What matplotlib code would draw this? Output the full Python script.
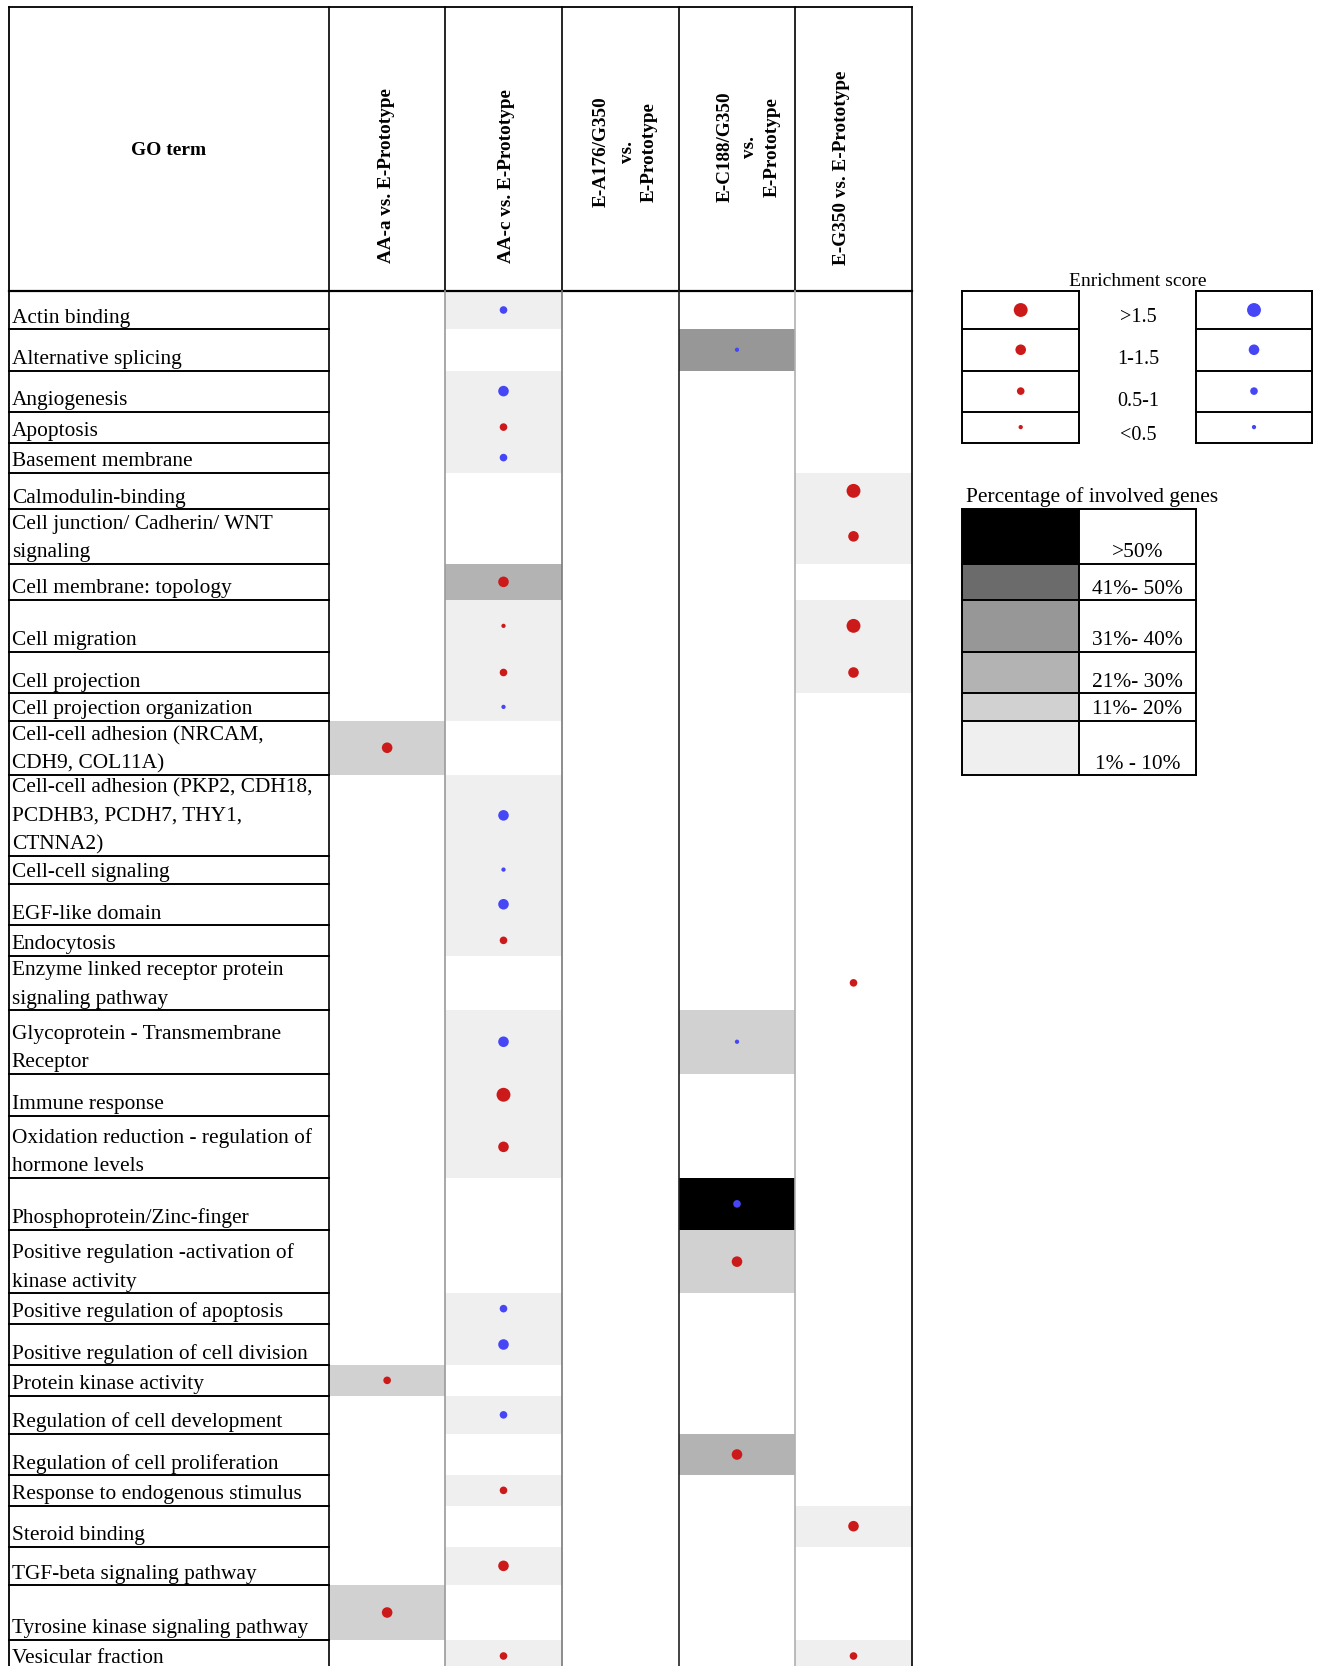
import numpy as np
import matplotlib.pyplot as plt
from matplotlib.patches import Rectangle

plt.rcParams['font.family'] = ['Liberation Serif', 'DejaVu Serif']

# GO terms (rows) and comparisons (columns)
go_terms = [
    'Actin binding',
    'Alternative splicing',
    'Angiogenesis',
    'Apoptosis',
    'Basement membrane',
    'Calmodulin-binding',
    'Cell junction/ Cadherin/ WNT\nsignaling',
    'Cell membrane: topology',
    'Cell migration',
    'Cell projection',
    'Cell projection organization',
    'Cell-cell adhesion (NRCAM,\nCDH9, COL11A)',
    'Cell-cell adhesion (PKP2, CDH18,\nPCDHB3, PCDH7, THY1,\nCTNNA2)',
    'Cell-cell signaling',
    'EGF-like domain',
    'Endocytosis',
    'Enzyme linked receptor protein\nsignaling pathway',
    'Glycoprotein - Transmembrane\nReceptor',
    'Immune response',
    'Oxidation reduction - regulation of\nhormone levels',
    'Phosphoprotein/Zinc-finger',
    'Positive regulation -activation of\nkinase activity',
    'Positive regulation of apoptosis',
    'Positive regulation of cell division',
    'Protein kinase activity',
    'Regulation of cell development',
    'Regulation of cell proliferation',
    'Response to endogenous stimulus',
    'Steroid binding',
    'TGF-beta signaling pathway',
    'Tyrosine kinase signaling pathway',
    'Vesicular fraction',
]

comparisons = [
    'AA-a vs. E-Prototype',
    'AA-c vs. E-Prototype',
    'E-A176/G350\nvs.\nE-Prototype',
    'E-C188/G350\nvs.\nE-Prototype',
    'E-G350 vs. E-Prototype',
]

# percentage of involved genes: 0 none, 1 = 1-10%, 2 = 11-20%, 3 = 21-30%,
# 4 = 31-40%, 5 = 41-50%, 6 = >50%
pct_bin = [
    [0, 1, 0, 0, 0],
    [0, 0, 0, 4, 0],
    [0, 1, 0, 0, 0],
    [0, 1, 0, 0, 0],
    [0, 1, 0, 0, 0],
    [0, 0, 0, 0, 1],
    [0, 0, 0, 0, 1],
    [0, 3, 0, 0, 0],
    [0, 1, 0, 0, 1],
    [0, 1, 0, 0, 1],
    [0, 1, 0, 0, 0],
    [2, 0, 0, 0, 0],
    [0, 1, 0, 0, 0],
    [0, 1, 0, 0, 0],
    [0, 1, 0, 0, 0],
    [0, 1, 0, 0, 0],
    [0, 0, 0, 0, 0],
    [0, 1, 0, 2, 0],
    [0, 1, 0, 0, 0],
    [0, 1, 0, 0, 0],
    [0, 0, 0, 6, 0],
    [0, 0, 0, 2, 0],
    [0, 1, 0, 0, 0],
    [0, 1, 0, 0, 0],
    [2, 0, 0, 0, 0],
    [0, 1, 0, 0, 0],
    [0, 0, 0, 3, 0],
    [0, 1, 0, 0, 0],
    [0, 0, 0, 0, 1],
    [0, 1, 0, 0, 0],
    [2, 0, 0, 0, 0],
    [0, 1, 0, 0, 1],
]

# enrichment score: 1 = <0.5, 2 = 0.5-1, 3 = 1-1.5, 4 = >1.5
# positive -> red dot, negative -> blue dot
score_bin = [
    [0, -2, 0, 0, 0],
    [0, 0, 0, -1, 0],
    [0, -3, 0, 0, 0],
    [0, 2, 0, 0, 0],
    [0, -2, 0, 0, 0],
    [0, 0, 0, 0, 4],
    [0, 0, 0, 0, 3],
    [0, 3, 0, 0, 0],
    [0, 1, 0, 0, 4],
    [0, 2, 0, 0, 3],
    [0, -1, 0, 0, 0],
    [3, 0, 0, 0, 0],
    [0, -3, 0, 0, 0],
    [0, -1, 0, 0, 0],
    [0, -3, 0, 0, 0],
    [0, 2, 0, 0, 0],
    [0, 0, 0, 0, 2],
    [0, -3, 0, -1, 0],
    [0, 4, 0, 0, 0],
    [0, 3, 0, 0, 0],
    [0, 0, 0, -2, 0],
    [0, 0, 0, 3, 0],
    [0, -2, 0, 0, 0],
    [0, -3, 0, 0, 0],
    [2, 0, 0, 0, 0],
    [0, -2, 0, 0, 0],
    [0, 0, 0, 3, 0],
    [0, 2, 0, 0, 0],
    [0, 0, 0, 0, 3],
    [0, 3, 0, 0, 0],
    [3, 0, 0, 0, 0],
    [0, 2, 0, 0, 2],
]

score_legend_bins = [4, 3, 2, 1]
score_legend_labels = ['>1.5', '1-1.5', '0.5-1', '<0.5']
pct_legend_bins = [6, 5, 4, 3, 2, 1]
pct_legend_labels = ['>50%', '41%- 50%', '31%- 40%', '21%- 30%', '11%- 20%', '1% - 10%']

# styles
pct_colors = {1: '#efefef', 2: '#d1d1d1', 3: '#b3b3b3', 4: '#979797', 5: '#6b6b6b', 6: '#000000'}
dot_sizes = {1: 9.5, 2: 30, 3: 58, 4: 100}
red, blue = '#cc1a1a', '#4646f7'

# layout in canvas pixels
W, H = 1319, 1666
top_y = 7
left_x = 8.5
row_edges = [291, 329, 370.5, 411.7, 442.5, 472.7, 509, 563.7, 600, 651.7, 693.3,
             720.5, 775, 855.7, 883.5, 925, 955.7, 1010, 1073.5, 1116, 1177.7,
             1230, 1293.3, 1324, 1365, 1395.7, 1434, 1475, 1505.7, 1546.7, 1585,
             1640, 1672]
col_edges = [329, 445.3, 561.7, 679, 795, 912]
body_line_colors = ['#000000', '#9a9a9a', '#7a7a7a', '#222222', '#b0b0b0', '#000000']
line_step = 28.4

fig = plt.figure(figsize=(W / 100, H / 100), dpi=100)
ax = fig.add_axes([0, 0, 1, 1])
ax.set_xlim(0, W)
ax.set_ylim(H, 0)
ax.axis('off')

col_mid = [(col_edges[i] + col_edges[i + 1]) / 2 for i in range(5)]
row_mid = [(row_edges[i] + row_edges[i + 1]) / 2 for i in range(len(go_terms))]

# shaded cells
for r in range(len(go_terms)):
    for c in range(5):
        b = pct_bin[r][c]
        if b:
            ax.add_patch(Rectangle((col_edges[c], row_edges[r]),
                                   col_edges[c + 1] - col_edges[c],
                                   row_edges[r + 1] - row_edges[r],
                                   fc=pct_colors[b], ec='none', lw=0, zorder=1))

# dots
xs, ys, ss, cs = [], [], [], []
for r in range(len(go_terms)):
    for c in range(5):
        s = score_bin[r][c]
        if s:
            xs.append(col_mid[c])
            ys.append(row_mid[r])
            ss.append(dot_sizes[abs(s)])
            cs.append(red if s > 0 else blue)
ax.scatter(xs, ys, s=ss, c=cs, linewidths=0, zorder=4)

# grid lines
ax.plot([left_x, col_edges[-1]], [top_y, top_y], color='k', lw=1.3, zorder=5)
ax.plot([left_x, col_edges[-1]], [row_edges[0], row_edges[0]], color='k', lw=1.6, zorder=5)
ax.plot([left_x, left_x], [top_y, H], color='k', lw=1.3, zorder=5)
for x, lc in zip(col_edges, body_line_colors):
    ax.plot([x, x], [top_y, row_edges[0]], color='k', lw=1.2, zorder=5)
    ax.plot([x, x], [row_edges[0], H], color=lc, lw=1.2, zorder=5)
for y in row_edges[1:-1]:
    ax.plot([left_x, col_edges[0]], [y, y], color='k', lw=1.4, zorder=5)

# header text
ax.text(169, 150, 'GO term', ha='center', va='center', fontsize=14, fontweight='bold')
head_pos = [(386.7, 175.8), (506.7, 175.8), None, None, (841.7, 167.5)]
multi_pos = {2: ([601.7, 627.5, 649], 152), 3: ([725, 749, 772.5], 147)}
for c, name in enumerate(comparisons):
    if c in multi_pos:
        xs_l, yc = multi_pos[c]
        for xl, part in zip(xs_l, name.split('\n')):
            ax.text(xl, yc, part, rotation=90, ha='center', va='center',
                    fontsize=13.8, fontweight='bold')
    else:
        ax.text(head_pos[c][0], head_pos[c][1], name, rotation=90, ha='center',
                va='center', fontsize=13.8, fontweight='bold')

# GO term labels, lines stacked up from the bottom of each row
for r, term in enumerate(go_terms):
    lines = term.split('\n')
    base = min(row_edges[r + 1] - 6.5, H - 3)
    for k, line in enumerate(reversed(lines)):
        ax.text(11.7, base - k * line_step, line, ha='left', va='baseline', fontsize=15.4)

# enrichment score legend
ax.text(1138, 281, 'Enrichment score', ha='center', va='center', fontsize=14)
leg_edges = row_edges[:5]
for x0, x1 in [(962.3, 1079), (1195.7, 1312.3)]:
    for y in leg_edges:
        ax.plot([x0, x1], [y, y], color='k', lw=1.4, zorder=5)
    for x in (x0, x1):
        ax.plot([x, x], [leg_edges[0], leg_edges[-1]], color='k', lw=1.4, zorder=5)
leg_y = [(leg_edges[i] + leg_edges[i + 1]) / 2 for i in range(4)]
ax.scatter([1020.7] * 4, leg_y, s=[dot_sizes[b] for b in score_legend_bins],
           c=red, linewidths=0, zorder=4)
ax.scatter([1254] * 4, leg_y, s=[dot_sizes[b] for b in score_legend_bins],
           c=blue, linewidths=0, zorder=4)
for lab, yb in zip(score_legend_labels, [321.5, 364, 405.5, 439.5]):
    ax.text(1138, yb, lab, ha='center', va='baseline', fontsize=14.5)

# percentage legend
ax.text(966, 497, 'Percentage of involved genes', ha='left', va='center', fontsize=15.4)
pct_edges = row_edges[6:13]
for i, b in enumerate(pct_legend_bins):
    ax.add_patch(Rectangle((962.3, pct_edges[i]), 1079 - 962.3,
                           pct_edges[i + 1] - pct_edges[i],
                           fc=pct_colors[b], ec='none', lw=0, zorder=1))
    ax.text(1137.5, pct_edges[i + 1] - 6.5, pct_legend_labels[i], ha='center',
            va='baseline', fontsize=15.4)
for y in pct_edges:
    ax.plot([962.3, 1195.7], [y, y], color='k', lw=1.4, zorder=5)
for x in (962.3, 1079, 1195.7):
    ax.plot([x, x], [pct_edges[0], pct_edges[-1]], color='k', lw=1.4, zorder=5)

fig.savefig('out.png', dpi=100, facecolor='white')
